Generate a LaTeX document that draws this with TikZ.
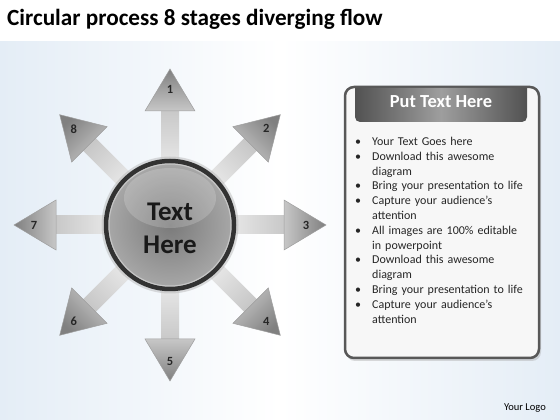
\documentclass[tikz,border=0pt]{standalone}
\usepackage{fontspec}
\setmainfont{Carlito}
\usetikzlibrary{calc}
\definecolor{bgb}{RGB}{228,237,246}
\definecolor{ringc}{RGB}{50,50,50}
\definecolor{boxline}{RGB}{88,88,88}
\definecolor{boxfill}{RGB}{247,247,247}
\newcommand\bitem{\makebox[17pt][l]{\textbullet}}
\newcommand\bcont{\makebox[17pt][l]{}}
\begin{document}
\begin{tikzpicture}[x=1pt,y=1pt,
  num/.style={font=\bfseries\fontsize{12.5}{14}\selectfont, text=black!85, inner sep=0pt},
  shaftst/.style={top color=black!22, bottom color=black!8},
  headst/.style={top color=black!50, bottom color=black!22, draw=black!38, line width=0.5pt},
  hub/.style={circle, minimum size=128pt, inner sep=0pt, draw=ringc, line width=4.5pt,
    inner color=black!52, outer color=black!34},
  listtext/.style={anchor=north west, text width=180pt, align=left, inner sep=0pt,
    font=\fontsize{12}{14.8}\selectfont, text=black!85}
]
\useasboundingbox (0,0) rectangle (560,420);
\fill[white] (0,0) rectangle (560,420);
\shade[left color=bgb, right color=bgb, middle color=white] (0,0) rectangle (560,378);

\node[anchor=base west, font=\bfseries\fontsize{23.2}{27}\selectfont, inner sep=0pt] (title) at (7,394) {Circular process 8 stages diverging flow};

\coordinate (c) at (170,195);
\foreach \a/\s/\n in {90/0/1,45/-45/2,0/-90/3,-45/-135/4,-90/-180/5,-135/-225/6,180/90/7,135/45/8}{
  \pgfmathsetmacro\ap{\a+90}
  \pgfmathsetmacro\am{\a-90}
  \shade[shaftst, shading angle=\s]
    ($(c)+(\a:55)+(\ap:9)$) -- ($(c)+(\a:117)+(\ap:9)$) -- ($(c)+(\a:117)+(\am:9)$) -- ($(c)+(\a:55)+(\am:9)$) -- cycle;
  \shadedraw[headst, shading angle=\s]
    ($(c)+(\a:114)+(\ap:25)$) -- ($(c)+(\a:156)$) -- ($(c)+(\a:114)+(\am:25)$) -- cycle;
  \node[num] (n\n) at ($(c)+(\a:136)$) {\n};
}

\fill[black!30, opacity=0.45] (c) circle (68.5);
\node[hub] (center) at (c) {};
\draw[black!22, line width=1pt] (c) circle (61);
\fill[white, opacity=0.18] ($(c)+(0,27)$) ellipse (46 and 30);
\node[font=\bfseries\fontsize{27}{33}\selectfont, align=center, text=black!90] (ctext) at ($(c)+(0,-3)$) {Text\\Here};

% panel
\fill[black!35, opacity=0.4, rounded corners=9] (346,59) rectangle (541,331);
\draw[boxline, line width=2.5pt, fill=boxfill, rounded corners=9] (345,62) rectangle (539,333);
\shade[left color=black!68, right color=black!68, middle color=black!38]
  (355,332) {[rounded corners=5] -- (355,298) -- (527,298)} -- (527,332) -- cycle;
\node[text=white, font=\bfseries\fontsize{18.4}{22}\selectfont] (hdr) at (441,318) {Put Text Here};

\node[listtext] (list) at (355,283) {%
\bitem Your Text Goes here\\
\bitem Download this awesome\\
\bcont diagram\\
\bitem Bring your presentation to life\\
\bitem Capture your audience’s\\
\bcont attention\\
\bitem All images are 100\% editable\\
\bcont in powerpoint\\
\bitem Download this awesome\\
\bcont diagram\\
\bitem Bring your presentation to life\\
\bitem Capture your audience’s\\
\bcont attention};

\node[anchor=base east, font=\fontsize{10.5}{12}\selectfont, inner sep=0pt] (logo) at (546,9) {Your Logo};
\end{tikzpicture}
\end{document}
